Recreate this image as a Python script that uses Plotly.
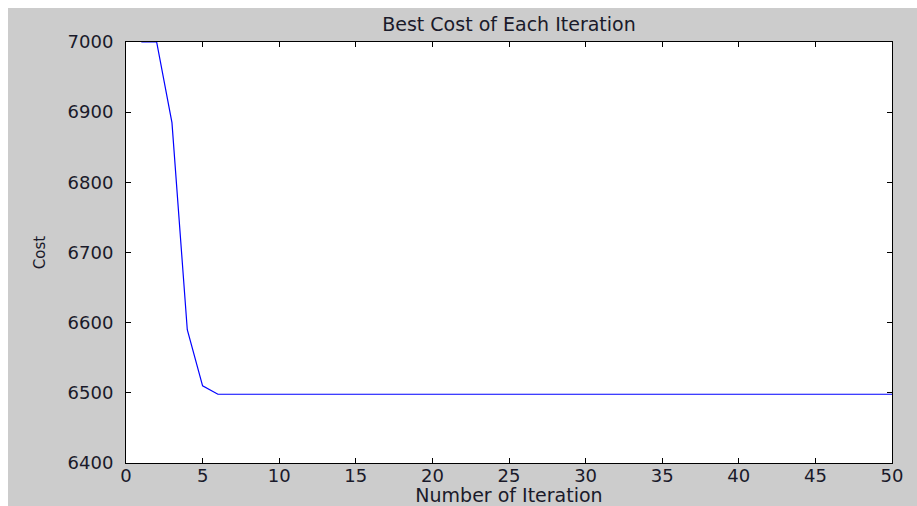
import plotly.graph_objects as go

iterations = list(range(1, 51))
best_cost = [7000, 7000, 6885, 6590, 6510] + [6498] * 45
x_ticks = list(range(0, 51, 5))
y_ticks = list(range(6400, 7001, 100))

# figure sits at (8, 8) on the page (body margin) and runs to the window edges
W, H = 909, 498
L, R, T, B = 118, 25, 34, 43
pw, ph = W - L - R, H - T - B

FONT = "DejaVu Sans"
TXT = "#1a1a2a"

fig = go.Figure()
fig.add_trace(go.Scatter(x=iterations, y=best_cost, mode="lines",
                         line=dict(color="#0000ff", width=1.2), showlegend=False))

axis_common = dict(showgrid=False, zeroline=False, showline=True, linecolor="black",
                   linewidth=1, mirror="allticks", ticks="inside", ticklen=5,
                   tickcolor="black", automargin=False,
                   tickfont=dict(family=FONT, size=18, color=TXT))

fig.update_xaxes(range=[0, 50], tickvals=x_ticks, ticklabelstandoff=-4,
                 title=dict(text="Number of Iteration", standoff=4,
                            font=dict(family=FONT, size=19, color=TXT)),
                 **axis_common)
fig.update_yaxes(range=[6400, 7000], tickvals=y_ticks, ticklabelstandoff=8,
                 title=dict(text="Cost", standoff=18,
                            font=dict(family=FONT, size=15, color=TXT)),
                 **axis_common)

fig.update_layout(
    width=W, height=H,
    margin=dict(l=L, r=R, t=T, b=B, pad=0, autoexpand=False),
    paper_bgcolor="#cccccc", plot_bgcolor="white",
    title=dict(text="Best Cost of Each Iteration", x=(L + pw / 2) / W, xanchor="center",
               y=1 - 16 / H, yanchor="middle",
               font=dict(family=FONT, size=19, color=TXT)),
)

fig.write_html(
    "out.html",
    post_script="document.body.style.margin='8px 0 0 8px';"
                "document.body.style.overflow='hidden';",
)
